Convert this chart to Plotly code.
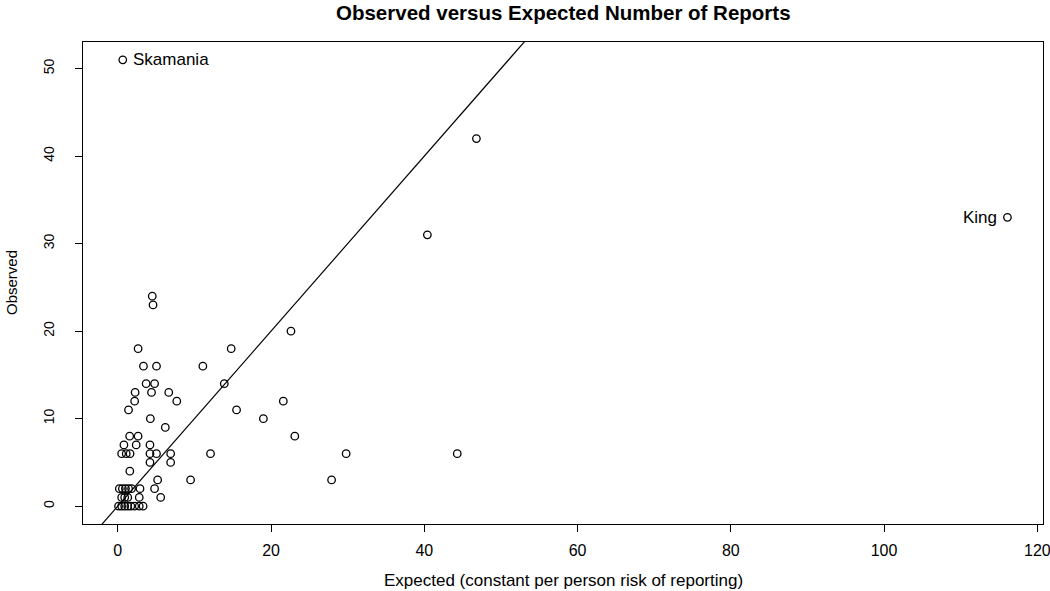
import plotly.graph_objects as go

# Observed vs expected counts
expected = [
    0.65, 46.8, 116.1, 40.4, 4.5, 4.6, 22.6,
    2.65, 14.8,
    3.35, 5.05, 11.1,
    3.7, 4.8, 13.9,
    2.26, 4.4, 6.65,
    2.2, 7.7, 21.6,
    1.4, 15.5,
    4.25, 19.0,
    6.2,
    1.55, 2.65, 23.1,
    0.8, 2.4, 4.2,
    0.5, 1.1, 1.6, 4.2, 5.05, 6.9, 12.1, 29.8, 44.3,
    4.2, 6.9,
    1.57,
    5.2, 9.5, 27.9,
    0.2, 0.6, 1.0, 1.4, 1.8, 2.9, 4.8,
    0.5, 0.9, 1.3, 2.8, 5.6,
    0.1, 0.5, 0.9, 1.3, 1.7, 2.2, 2.8, 3.3,
]
observed = [
    51, 42, 33, 31, 24, 23, 20,
    18, 18,
    16, 16, 16,
    14, 14, 14,
    13, 13, 13,
    12, 12, 12,
    11, 11,
    10, 10,
    9,
    8, 8, 8,
    7, 7, 7,
    6, 6, 6, 6, 6, 6, 6, 6, 6,
    5, 5,
    4,
    3, 3, 3,
    2, 2, 2, 2, 2, 2, 2,
    1, 1, 1, 1, 1,
    0, 0, 0, 0, 0, 0, 0, 0,
]
label_names = ["Skamania", "King"]
label_x = [0.65, 116.1]
label_y = [51, 33]

x_ticks = [0, 20, 40, 60, 80, 100, 120]
y_ticks = [0, 10, 20, 30, 40, 50]

title_text = "Observed versus Expected Number of Reports"
x_title = "Expected (constant per person risk of reporting)"
y_title = "Observed"

FONT = "Liberation Sans, Arial, Helvetica, sans-serif"

# R-style 4% range extension
xspan = max(expected) - min(expected)
yspan = max(observed) - min(observed)
xr = [min(expected) - 0.04 * xspan, max(expected) + 0.04 * xspan]
yr = [min(observed) - 0.04 * yspan, max(observed) + 0.04 * yspan]

fig = go.Figure()

# y = x reference line
fig.add_trace(go.Scatter(
    x=[xr[0] - 5, xr[1] + 5], y=[xr[0] - 5, xr[1] + 5],
    mode="lines", line=dict(color="black", width=1.2),
    hoverinfo="skip", showlegend=False,
))

fig.add_trace(go.Scatter(
    x=expected, y=observed, mode="markers",
    marker=dict(symbol="circle-open", size=7.5, color="black",
                line=dict(color="black", width=1.3)),
    showlegend=False,
))

PLOT_W = 960.0
PLOT_H = 482.0

annotations = []
annotations.append(dict(x=label_x[0], y=label_y[0], text=label_names[0],
                        xref="x", yref="y", xanchor="left", yanchor="middle",
                        xshift=8, showarrow=False,
                        font=dict(family=FONT, size=17, color="black")))
annotations.append(dict(x=label_x[1], y=label_y[1], text=label_names[1],
                        xref="x", yref="y", xanchor="right", yanchor="middle",
                        xshift=-8, showarrow=False,
                        font=dict(family=FONT, size=17, color="black")))
annotations.append(dict(x=0.5, y=1.0 + (42 - 13) / PLOT_H, xref="paper", yref="paper",
                        text="<b>" + title_text + "</b>", showarrow=False,
                        xanchor="center", yanchor="middle",
                        font=dict(family=FONT, size=20.5, color="black")))
annotations.append(dict(x=0.5, y=-(580 - 524) / PLOT_H, xref="paper", yref="paper",
                        text=x_title, showarrow=False,
                        xanchor="center", yanchor="middle",
                        font=dict(family=FONT, size=17, color="black")))
annotations.append(dict(x=-(83 - 11) / PLOT_W, y=0.5, xref="paper", yref="paper",
                        text=y_title, showarrow=False, textangle=-90,
                        xanchor="center", yanchor="middle",
                        font=dict(family=FONT, size=15, color="black")))

fig.update_layout(
    width=1050, height=591,
    margin=dict(l=83, r=7, t=42, b=67),
    paper_bgcolor="white", plot_bgcolor="white",
    font=dict(family=FONT, color="black"),
    annotations=annotations,
    xaxis=dict(
        range=xr, tickmode="array", tickvals=x_ticks,
        ticktext=[str(v) for v in x_ticks],
        showgrid=False, zeroline=False, automargin=False,
        showline=True, mirror=True, linecolor="black", linewidth=1,
        ticks="outside", ticklen=7, tickcolor="black", tickwidth=1,
        tickfont=dict(family=FONT, size=16, color="black"),
        ticklabelstandoff=5,
        ticklabeloverflow="allow",
    ),
    yaxis=dict(
        range=yr, tickmode="array", tickvals=y_ticks,
        ticktext=[str(v) for v in y_ticks],
        showgrid=False, zeroline=False, automargin=False,
        showline=True, mirror=True, linecolor="black", linewidth=1,
        ticks="outside", ticklen=7, tickcolor="black", tickwidth=1,
        tickangle=-90,
        tickfont=dict(family=FONT, size=14, color="black"),
        ticklabelstandoff=15,
    ),
)

fig.write_html(
    "out.html",
    config={"displayModeBar": False},
    post_script="document.body.style.margin='0px';document.body.style.overflow='hidden';",
)
